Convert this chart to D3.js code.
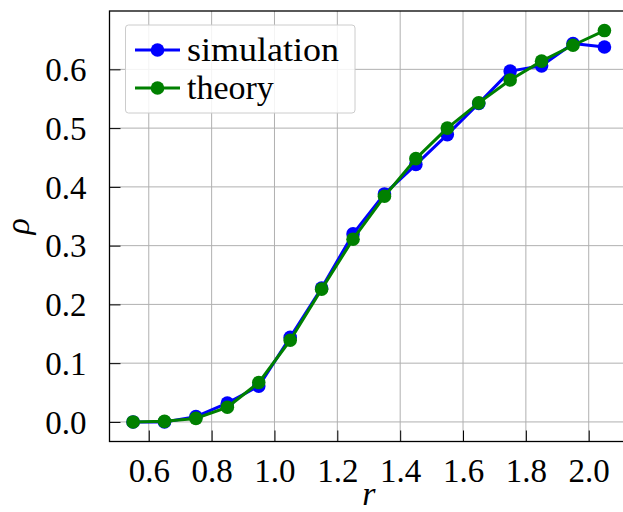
<!DOCTYPE html>
<html>
<head>
<meta charset="utf-8">
<script src="https://cdn.jsdelivr.net/npm/d3@7"></script>
<style>
  html, body { margin: 0; padding: 0; background: #fff; }
  svg { display: block; }
  .lab { font-family: 'Liberation Serif'; }
</style>
</head>
<body>
<svg id="chart" width="623" height="512" font-family="Liberation Serif">
  <text id="leg0" class="lab" x="187" y="61" style="font-family:'Liberation Serif';font-size:34px">simulation</text>
  <text id="leg1" class="lab" x="187" y="99" style="font-family:'Liberation Serif';font-size:34px">theory</text>
  <text id="xlab" class="lab" style="font-family:'Liberation Serif';font-size:34px;font-style:italic">r</text>
  <text id="ylab" class="lab" style="font-family:'Liberation Serif';font-size:34px;font-style:italic">ρ</text>
</svg>
<script>
const rValues = [0.55, 0.65, 0.75, 0.85, 0.95, 1.05, 1.15, 1.25, 1.35, 1.45, 1.55, 1.65, 1.75, 1.85, 1.95, 2.05];
const simulation = [0.000, 0.000, 0.009, 0.032, 0.061, 0.144, 0.228, 0.320, 0.388, 0.438, 0.489, 0.542, 0.597, 0.606, 0.644, 0.638];
const theory = [0.000, 0.001, 0.006, 0.025, 0.067, 0.139, 0.226, 0.311, 0.384, 0.448, 0.500, 0.543, 0.582, 0.614, 0.641, 0.666];
const xTicks = [0.6, 0.8, 1.0, 1.2, 1.4, 1.6, 1.8, 2.0];
const yTicks = [0.0, 0.1, 0.2, 0.3, 0.4, 0.5, 0.6];
const seriesNames = ["simulation", "theory"];
const seriesColors = ["#0000ff", "#008000"];

(function () {
const FONT = "Liberation Serif";
const svg = d3.select("#chart");
const pL = 109.5, pR = 628, pT = 11, pB = 441.5;

const x = d3.scaleLinear().domain([0.475, 2.125]).range([pL, pR]);
const y = d3.scaleLinear().domain([-0.0333, 0.6993]).range([pB, pT]);

const under = svg.insert("g", ":first-child");

// grid
const grid = under.append("g");
grid.selectAll("line.vx").data(xTicks).join("line").attr("class", "vx")
  .attr("x1", d => x(d)).attr("x2", d => x(d))
  .attr("y1", pT).attr("y2", pB)
  .attr("stroke", "#b0b0b0").attr("stroke-width", 1);
grid.selectAll("line.hy").data(yTicks).join("line").attr("class", "hy")
  .attr("y1", d => y(d)).attr("y2", d => y(d))
  .attr("x1", pL).attr("x2", pR)
  .attr("stroke", "#b0b0b0").attr("stroke-width", 1);

// axes with inward ticks
const xAxis = d3.axisBottom(x).tickValues(xTicks).tickSize(-11).tickPadding(17)
  .tickFormat(d3.format(".1f"));
const yAxis = d3.axisLeft(y).tickValues(yTicks).tickSize(-11).tickPadding(23)
  .tickFormat(d3.format(".1f"));

const gx = under.append("g").attr("transform", `translate(0,${pB})`).call(xAxis);
const gy = under.append("g").attr("transform", `translate(${pL},0)`).call(yAxis);
[gx, gy].forEach(g => {
  g.select(".domain").remove();
  g.attr("font-family", FONT).attr("font-size", 33);
  g.selectAll(".tick line").attr("stroke", "#000").attr("stroke-width", 1);
  g.selectAll(".tick text").attr("class", "lab").attr("font-family", FONT)
    .style("font-family", "'Liberation Serif'").attr("font-size", 33).attr("fill", "#000");
});
gx.selectAll(".tick text").attr("dy", "0.71em");
gy.selectAll(".tick text").attr("dy", "0.34em");

// spines
under.append("rect").attr("x", pL).attr("y", pT)
  .attr("width", pR - pL).attr("height", pB - pT)
  .attr("fill", "none").attr("stroke", "#000").attr("stroke-width", 1.3);

// series
const line = d3.line().x(d => x(d[0])).y(d => y(d[1]));
[simulation, theory].forEach((vals, i) => {
  const pts = rValues.map((r, j) => [r, vals[j]]);
  const g = under.append("g");
  g.append("path").datum(pts).attr("d", line)
    .attr("fill", "none").attr("stroke", seriesColors[i])
    .attr("stroke-width", 3).attr("stroke-linejoin", "round");
  g.selectAll("circle").data(pts).join("circle")
    .attr("cx", d => x(d[0])).attr("cy", d => y(d[1])).attr("r", 6.8)
    .attr("fill", seriesColors[i]);
});

// axis labels (static text elements, positioned here)
svg.select("#xlab").attr("x", (pL + pR) / 2).attr("y", 505)
  .attr("text-anchor", "middle").attr("fill", "#000");
svg.select("#ylab")
  .attr("transform", `translate(29,${(pT + pB) / 2}) rotate(-90)`)
  .attr("text-anchor", "middle").attr("fill", "#000");

// legend
const lg = under.append("g");
lg.append("rect").attr("x", 125.5).attr("y", 25).attr("width", 229.5).attr("height", 88)
  .attr("rx", 3).attr("fill", "#fff").attr("fill-opacity", 0.85)
  .attr("stroke", "#cccccc").attr("stroke-width", 1);
seriesNames.forEach((name, i) => {
  const cy = 50 + i * 38;
  lg.append("line").attr("x1", 135).attr("x2", 180).attr("y1", cy).attr("y2", cy)
    .attr("stroke", seriesColors[i]).attr("stroke-width", 3);
  lg.append("circle").attr("cx", 157.5).attr("cy", cy).attr("r", 6.8).attr("fill", seriesColors[i]);
  const t = svg.select("#leg" + i).attr("x", 187).attr("y", cy + 11).attr("fill", "#000").text(name);
  if (i === 0) t.attr("textLength", 152).attr("lengthAdjust", "spacingAndGlyphs");
});
})();
</script>
</body>
</html>
